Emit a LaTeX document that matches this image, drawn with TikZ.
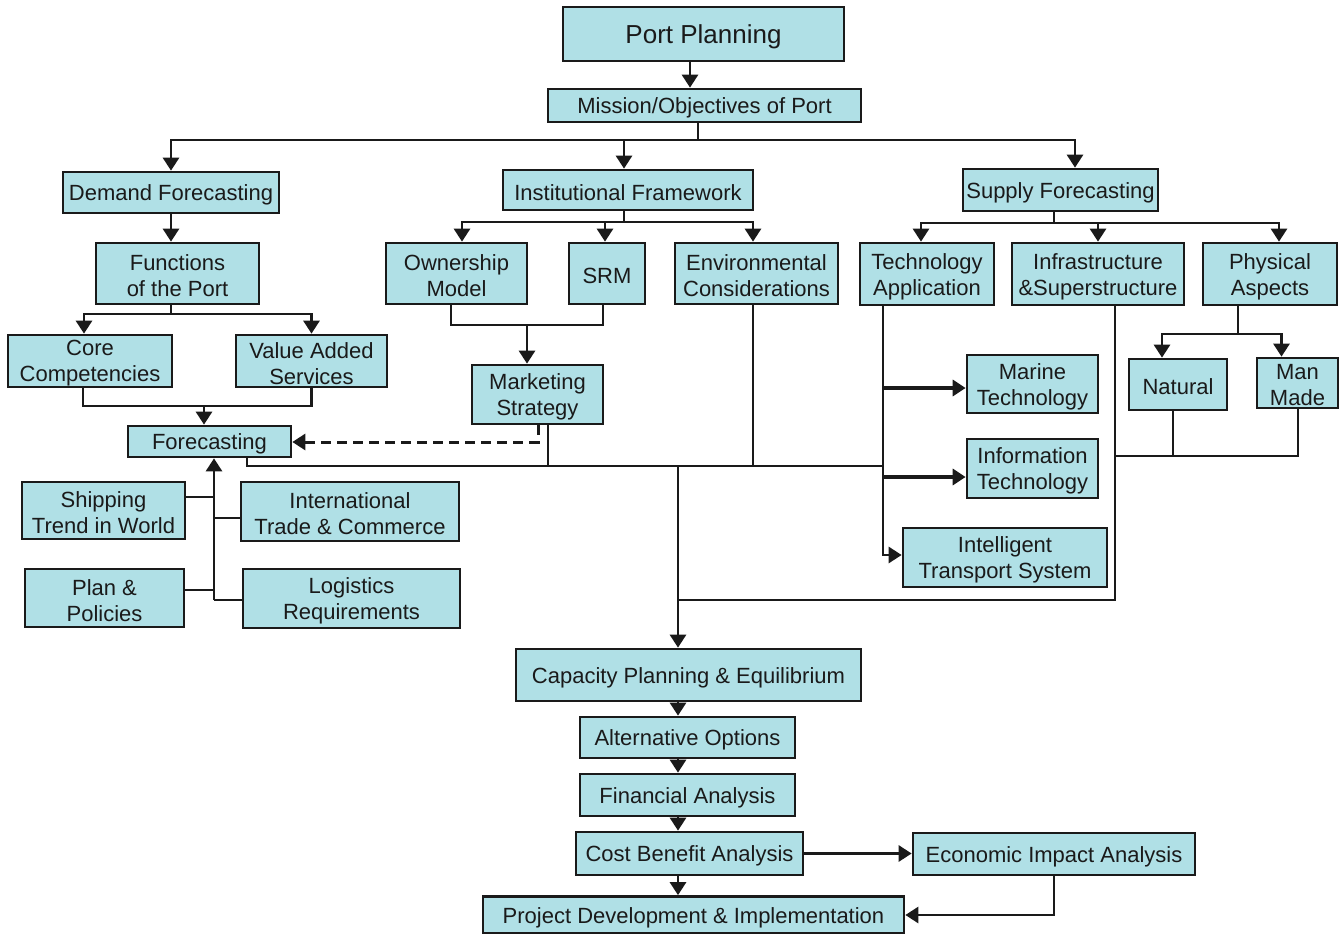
\documentclass[tikz,border=0pt]{standalone}
\usepackage{fontspec}
\setmainfont{Liberation Sans}
\usetikzlibrary{arrows.meta}
\definecolor{boxfill}{HTML}{B0E0E6}
\definecolor{ink}{HTML}{1A1A1A}
% box: name, centre x, centre y, width, height, text (set a little below centre)
\newcommand{\bx}[6]{%
  \node[box,minimum width=#4,minimum height=#5] (#1) at (#2,#3) {};
  \node[boxtext] (#1-t) at ([yshift=-2.5pt]#1.center) {#6};}
\begin{document}
\begin{tikzpicture}[x=1pt,y=-1pt,
  box/.style={draw=ink,line width=2.7pt,fill=boxfill,inner sep=0pt},
  boxtext/.style={inner sep=0pt,align=center,text=ink,font=\fontsize{22}{26}\selectfont},
  link/.style={draw=ink,line width=2.8pt},
  arr/.style={link,-{Triangle[length=13pt,width=16pt]}},
  dashlink/.style={link,line width=3pt,dash pattern=on 10pt off 6pt}]
\useasboundingbox (0,0) rectangle (1344,934);

% ---- boxes ----
\bx{pp}{703.5}{34}{281}{54}{\fontsize{26}{30}\selectfont Port Planning}
\bx{mis}{704.5}{105.5}{313}{33}{Mission/Objectives of Port}
\bx{dem}{171}{192.5}{216}{41}{Demand Forecasting}
\bx{inst}{628}{190}{250}{40}{Institutional Framework}
\bx{sup}{1060.5}{190}{195}{42}{Supply Forecasting}
\bx{fun}{177.5}{273.5}{163}{61}{Functions\\of the Port}
\bx{core}{90}{361}{164}{52}{Core\\Competencies}
\bx{val}{311.5}{361}{151}{52}{Value Added\\Services}
\bx{fc}{209.5}{441.5}{163}{31}{Forecasting}
\bx{own}{456.5}{273.5}{141}{61}{Ownership\\Model}
\bx{srm}{607}{273.5}{76}{61}{SRM}
\bx{env}{756.5}{273.5}{163}{61}{Environmental\\Considerations}
\bx{mkt}{537.5}{394.5}{131}{59}{Marketing\\Strategy}
\bx{tech}{927}{274}{134}{62}{Technology\\Application}
\bx{inf}{1098}{274}{172}{62}{Infrastructure\\\&Superstructure}
\bx{phy}{1270}{274}{134}{62}{Physical\\Aspects}
\bx{nat}{1178}{384.5}{98}{51}{Natural}
\bx{man}{1297.5}{383}{81}{50}{Man\\Made}
\bx{mar}{1032.5}{384}{131}{58}{Marine\\Technology}
\bx{itec}{1032.5}{468.5}{131}{59}{Information\\Technology}
\bx{its}{1005}{557.5}{204}{59}{Intelligent\\Transport System}
\bx{ship}{103.5}{510.5}{163}{57}{Shipping\\Trend in World}
\bx{itc}{350}{511.5}{218}{59}{International\\Trade \& Commerce}
\bx{plan}{104.5}{598}{159}{58}{Plan \&\\Policies}
\bx{log}{351.5}{598.5}{217}{59}{Logistics\\Requirements}
\bx{cap}{688.5}{675}{345}{52}{Capacity Planning \& Equilibrium}
\bx{alt}{687.5}{737.5}{215}{41}{Alternative Options}
\bx{fin}{687.5}{795}{215}{42}{Financial Analysis}
\bx{cba}{689.5}{853.5}{227}{43}{Cost Benefit Analysis}
\bx{eia}{1054}{854}{282}{42}{Economic Impact Analysis}
\bx{pdi}{693.5}{915}{421}{37}{Project Development \& Implementation}

% ---- junction points ----
\coordinate (xa) at (690,0);
\coordinate (jm) at (698,140);
\coordinate (jf) at (171,314);
\coordinate (jc) at (204,406);
\coordinate (ji) at (624,222);
\coordinate (jo) at (527,325);
\coordinate (js) at (1054,223);
\coordinate (jp) at (1238,334);
\coordinate (jn) at (1115,456);
\coordinate (jb) at (1115,600);
\coordinate (jv) at (678,600);
\coordinate (jh) at (678,466);
\coordinate (th) at (883,466);
\coordinate (tm) at (883,388);
\coordinate (ti) at (883,477);
\coordinate (tx) at (883,0);
\coordinate (mk) at (548,466);
\coordinate (ev) at (753,466);
\coordinate (fx) at (247,466);
\coordinate (dm) at (538,442);
\coordinate (nx) at (1173,456);
\coordinate (mx) at (1298,456);
\coordinate (sv) at (214,600);
\coordinate (s1) at (214,497);
\coordinate (s2) at (214,518);
\coordinate (s3) at (214,590);
\coordinate (bx) at (678,0);

% ---- top of the tree ----
\draw[arr] (xa |- pp.south) -- (xa |- mis.north);
\draw[link] (jm |- mis.south) -- (jm);
\draw[arr] (jm) -| (dem.north);
\draw[arr] (jm) -| ([xshift=-4pt]inst.north);
\draw[arr] (jm) -| ([xshift=14.5pt]sup.north);

% ---- demand side ----
\draw[arr] (dem.south) -- (dem.south |- fun.north);
\draw[link] (jf |- fun.south) -- (jf);
\draw[arr] (jf) -| ([xshift=-6pt]core.north);
\draw[arr] (jf) -| (val.north);
\draw[link] ([xshift=-7pt]core.south) |- (jc) -| (val.south);
\draw[arr] (jc) -- (jc |- fc.north);
\draw[arr] (sv) -- (sv |- fc.south);
\draw[link] (s1 -| ship.east) -- (s1);
\draw[link] (s2) -- (s2 -| itc.west);
\draw[link] (s3 -| plan.east) -- (s3);
\draw[link] (sv) -- (sv -| log.west);

% ---- institutional side ----
\draw[link] (ji |- inst.south) -- (ji);
\draw[arr] (ji) -| ([xshift=5.5pt]own.north);
\draw[arr] (ji) -| ([xshift=-2pt]srm.north);
\draw[arr] (ji) -| ([xshift=-3.5pt]env.north);
\draw[link] ([xshift=-5.5pt]own.south) |- (jo) -| ([xshift=-4pt]srm.south);
\draw[arr] (jo) -- (jo |- mkt.north);
\draw[dashlink,-{Triangle[length=13pt,width=16pt]}] (dm |- mkt.south) -- (dm) -- (dm -| fc.east);

% ---- supply side ----
\draw[link] (js |- sup.south) -- (js);
\draw[arr] (js) -| ([xshift=-6pt]tech.north);
\draw[arr] (js) -| (inf.north);
\draw[arr] (js) -| ([xshift=9pt]phy.north);
\draw[link] (jp |- phy.south) -- (jp);
\draw[arr] (jp) -| ([xshift=-16pt]nat.north);
\draw[arr] (jp) -| ([xshift=-16pt]man.north);
\draw[link] (nx |- nat.south) -- (nx);
\draw[link] (mx |- man.south) -- (mx) -- (jn);
\draw[link] (jb |- inf.south) -- (jb) -- (jv);
\draw[arr] (tx |- tech.south) |- ([yshift=2.5pt]its.west);
\draw[arr,line width=3.4pt] (tm) -- (tm -| mar.west);
\draw[arr,line width=3.4pt] (ti) -- (ti -| itec.west);

% ---- collector into capacity planning ----
\draw[link] (fx |- fc.south) -- (fx) -- (th);
\draw[link] (mk |- mkt.south) -- (mk);
\draw[link] (ev |- env.south) -- (ev);
\draw[arr] (jh) -- (jh |- cap.north);

% ---- evaluation chain ----
\draw[arr] (bx |- cap.south) -- (bx |- alt.north);
\draw[arr] (bx |- alt.south) -- (bx |- fin.north);
\draw[arr] (bx |- fin.south) -- (bx |- cba.north);
\draw[arr] (bx |- cba.south) -- (bx |- pdi.north);
\draw[arr] (cba.east) -- (cba.east -| eia.west);
\draw[arr] (eia.south) |- (pdi.east);
\end{tikzpicture}
\end{document}
